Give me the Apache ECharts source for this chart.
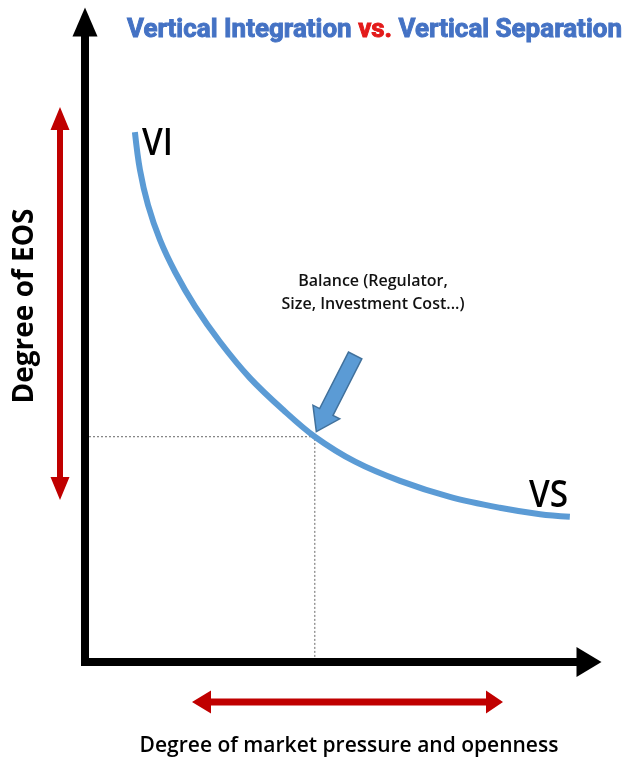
<!DOCTYPE html>
<html>
<head>
<meta charset="utf-8">
<script src="https://cdn.jsdelivr.net/npm/echarts@6/dist/echarts.min.js"></script>
<style>
html, body { margin: 0; padding: 0; background: #fff; }
#main { width: 629px; height: 764px; }
</style>
</head>
<body>
<div id="main"></div>
<script>
// curve, both axes run 0..100
var curveX = [9.9, 10.9, 12.5, 14.9, 17.9, 21.8, 26.8, 32.7, 39.3, 45.6, 53.6, 62.5, 72.4, 82.3, 90.3, 96.2]
var curveY = [82.8, 76.9, 71.4, 65.9, 60.9, 55.6, 50.0, 44.4, 39.4, 35.2, 31.3, 28.3, 25.8, 24.1, 23.1, 22.7]
var balancePoint = [45.6, 35.2]
var arrowTail = [53.6, 47.9]
var arrowTip = [45.9, 36.0]

var titleParts = ['Vertical Integration ', 'vs.', ' Vertical Separation']
var balanceLines = ['Balance (Regulator,', 'Size, Investment Cost...)']
var yName = 'Degree of EOS'
var xName = 'Degree of market pressure and openness'

var chart = echarts.init(document.getElementById('main'))

var curve = curveX.map(function (x, i) { return [x, curveY[i]] })
var dashed = [[0, balancePoint[1]], balancePoint, [balancePoint[0], 0]]

// text width helper, used to squeeze the condensed title
var ctx = document.createElement('canvas').getContext('2d')
function textWidth(t, font) {
  ctx.font = font
  return ctx.measureText(t).width
}

var titleFont = 'bold 25px Roboto'
var fullW = textWidth(titleParts.join(''), titleFont)
var titleScale = 495 / fullW
var titleGraphics = []
var tx = 127
titleParts.forEach(function (p, i) {
  var c = i == 1 ? '#e31a1a' : '#4472c4'
  titleGraphics.push({
    type: 'text', x: tx, y: 31, scaleX: titleScale, z: 20,
    style: {
      text: p, font: titleFont, fill: c, stroke: c, lineWidth: 0.9,
      textAlign: 'left', textVerticalAlign: 'middle'
    }
  })
  tx += textWidth(p, titleFont) * titleScale
})

var red = '#c00000'
function redArrowV(x, y1, y2) {
  // double headed, vertical
  return {
    type: 'polygon', z: 5,
    shape: { points: [
      [x, y1], [x + 9.5, y1 + 23], [x + 3, y1 + 23], [x + 3, y2 - 23], [x + 9.5, y2 - 23],
      [x, y2], [x - 9.5, y2 - 23], [x - 3, y2 - 23], [x - 3, y1 + 23], [x - 9.5, y1 + 23]
    ] },
    style: { fill: red }
  }
}
function redArrowH(y, x1, x2) {
  return {
    type: 'polygon', z: 5,
    shape: { points: [
      [x1, y], [x1 + 19, y - 11.5], [x1 + 19, y - 3.5], [x2 - 17, y - 3.5], [x2 - 17, y - 11.5],
      [x2, y], [x2 - 17, y + 11.5], [x2 - 17, y + 3.5], [x1 + 19, y + 3.5], [x1 + 19, y + 11.5]
    ] },
    style: { fill: red }
  }
}

var labelFont = '600 16px "Open Sans"'
var staticGraphics = titleGraphics.concat([
  redArrowV(60, 107, 500),
  redArrowH(702, 192, 503),
  {
    type: 'text', x: 142, y: 144, scaleX: 0.9, z: 20,
    style: { text: 'VI', font: '600 37px "Open Sans"', fill: '#000', textAlign: 'left', textVerticalAlign: 'middle' }
  },
  {
    type: 'text', x: 529, y: 496, scaleX: 0.9, z: 20,
    style: { text: 'VS', font: '600 37px "Open Sans"', fill: '#000', textAlign: 'left', textVerticalAlign: 'middle' }
  },
  {
    type: 'text', x: 373, y: 281, z: 20,
    style: { text: balanceLines[0], font: labelFont, fill: '#111', textAlign: 'center', textVerticalAlign: 'middle' }
  },
  {
    type: 'text', x: 373, y: 304, z: 20,
    style: { text: balanceLines[1], font: labelFont, fill: '#111', textAlign: 'center', textVerticalAlign: 'middle' }
  },
  {
    type: 'text', x: 25, y: 306, rotation: Math.PI / 2, z: 20,
    style: { text: yName, font: 'bold 28px "Open Sans"', fill: '#000', textAlign: 'center', textVerticalAlign: 'middle' }
  },
  {
    type: 'text', x: 349, y: 746, z: 20,
    style: { text: xName, font: '600 21px "Open Sans"', fill: '#000', textAlign: 'center', textVerticalAlign: 'middle' }
  }
])

var axisCommon = {
  type: 'value', min: 0, max: 100, z: 10,
  axisTick: { show: false },
  axisLabel: { show: false },
  splitLine: { show: false }
}

var option = {
  animation: false,
  backgroundColor: '#fff',
  grid: { left: 85, right: 40, top: 22, bottom: 102 },
  xAxis: Object.assign({}, axisCommon, {
    axisLine: {
      show: true, onZero: false, symbol: ['none', 'triangle'], symbolSize: [30, 25],
      lineStyle: { color: '#000', width: 8, cap: 'square' }
    }
  }),
  yAxis: Object.assign({}, axisCommon, {
    axisLine: {
      show: true, onZero: false, symbol: ['none', 'triangle'], symbolSize: [25, 29],
      lineStyle: { color: '#000', width: 8, cap: 'square' }
    }
  }),
  series: [
    {
      type: 'line', data: dashed, symbol: 'none', silent: true, z: 1,
      lineStyle: { color: '#666', width: 1, type: [2, 2] }
    },
    {
      type: 'line', data: curve, smooth: 0.35, symbol: 'none', z: 3,
      lineStyle: { color: '#5b9bd5', width: 6 }
    }
  ],
  graphic: staticGraphics
}
chart.setOption(option)

// blue block arrow pointing at the balance point
var p0 = chart.convertToPixel({ gridIndex: 0 }, arrowTail)
var p1 = chart.convertToPixel({ gridIndex: 0 }, arrowTip)
var dx = p1[0] - p0[0], dy = p1[1] - p0[1]
var len = Math.sqrt(dx * dx + dy * dy)
var ux = dx / len, uy = dy / len
var nx = -uy, ny = ux
var bx = p1[0] - ux * 22, by = p1[1] - uy * 22
function pt(x, y, k) { return [x + nx * k, y + ny * k] }
option.graphic = staticGraphics.concat([{
  type: 'polygon', z: 15,
  shape: { points: [
    pt(p0[0], p0[1], 7.5), pt(bx, by, 7.5), pt(bx, by, 15), p1,
    pt(bx, by, -15), pt(bx, by, -7.5), pt(p0[0], p0[1], -7.5)
  ] },
  style: { fill: '#5b9bd5', stroke: '#41719c', lineWidth: 1.5 }
}])
chart.setOption(option, true)
</script>
</body>
</html>
